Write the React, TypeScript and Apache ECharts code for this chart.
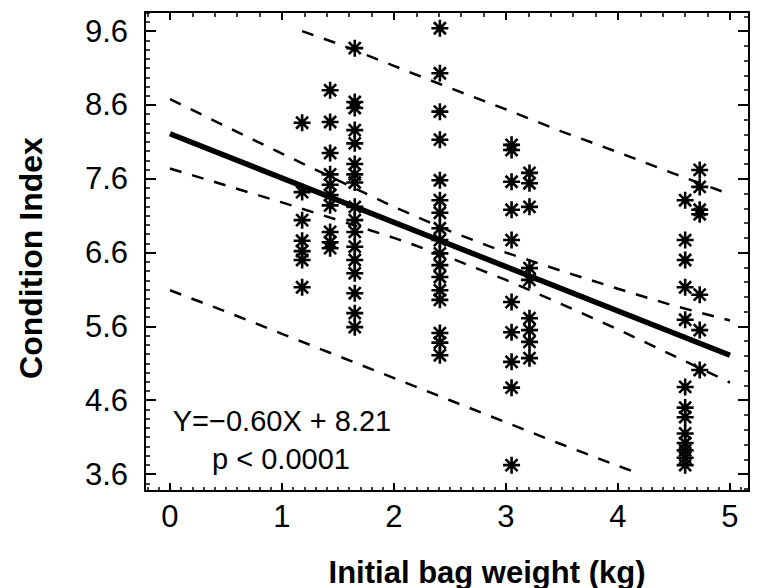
import React, { useEffect, useRef } from "react";
import * as echarts from "echarts";

// ---- axis ticks / labels ----
const xTickLabels = [0, 1, 2, 3, 4, 5];
const yTickLabels = [3.6, 4.6, 5.6, 6.6, 7.6, 8.6, 9.6];
const xRange = [-0.223, 5.17];
const yRange = [3.37, 9.86];

// ---- observations (x = initial bag weight, y = condition index) ----
const colAx = 1.18;
const colAy = [8.36, 7.42, 7.04, 6.76, 6.62, 6.5, 6.13];
const colBx = 1.43;
const colBy = [8.8, 8.37, 7.95, 7.66, 7.52, 7.38, 7.24, 6.88, 6.74, 6.66];
const colCx = 1.65;
const colCy = [9.37, 8.64, 8.56, 8.26, 8.08, 7.8, 7.66, 7.55, 7.22, 7.04, 6.88, 6.68, 6.5, 6.32, 6.05, 5.78, 5.59];
const colDx = 2.41;
const colDy = [9.64, 9.03, 8.51, 8.13, 7.58, 7.31, 7.14, 6.93, 6.77, 6.59, 6.43, 6.27, 6.09, 5.96, 5.51, 5.38, 5.21];
const colEx = 3.05;
const colEy = [8.06, 7.99, 7.56, 7.18, 6.77, 5.93, 5.52, 5.12, 4.77, 3.72];
const colFx = 3.21;
const colFy = [7.68, 7.54, 7.22, 6.39, 6.23, 5.71, 5.55, 5.39, 5.17];
const colGx = 4.6;
const colGy = [7.31, 6.77, 6.5, 6.13, 5.69, 4.78, 4.5, 4.37, 4.15, 4.02, 3.92, 3.82, 3.72];
const colHx = 4.73;
const colHy = [7.72, 7.49, 7.18, 7.12, 6.03, 5.55, 5.01];

// ---- regression line ----
const fitX = [0, 5];
const fitY = [8.21, 5.21];

// ---- confidence band (inner dashed) ----
const ciX = [0, 0.5, 1, 1.5, 2, 2.5, 3, 3.5, 4, 4.5, 5];
const ciUpper = [8.68, 8.31, 7.94, 7.58, 7.22, 6.89, 6.6, 6.35, 6.11, 5.88, 5.68];
const ciLower = [7.74, 7.51, 7.28, 7.04, 6.8, 6.53, 6.23, 5.9, 5.56, 5.2, 4.84];

// ---- prediction band (outer dashed) ----
const piUpperX = [1.18, 1.5, 2, 2.5, 3, 3.5, 4, 4.5, 5];
const piUpperY = [9.6, 9.43, 9.13, 8.83, 8.54, 8.24, 7.96, 7.67, 7.39];
const piLowerX = [0, 0.5, 1, 1.5, 2, 2.5, 3, 3.5, 4, 4.2];
const piLowerY = [6.09, 5.8, 5.5, 5.2, 4.9, 4.6, 4.3, 4.0, 3.71, 3.6];

const FONT = "'Liberation Sans', Arial, Helvetica, sans-serif";
const ASTERISK = "path://M0 -10 L0 10 M-10 0 L10 0 M-7.07 -7.07 L7.07 7.07 M-7.07 7.07 L7.07 -7.07";

function steps(from: number, to: number, step: number): number[] {
  const out: number[] = [];
  const n = Math.round((to - from) / step);
  for (let i = 0; i <= n; i++) out.push(Math.round((from + i * step) * 1000) / 1000);
  return out;
}

function pairs(xs: number[], ys: number[]): number[][] {
  return xs.map((x, i) => [x, ys[i]]);
}

function column(x: number, ys: number[]): number[][] {
  return ys.map((y) => [x, y]);
}

export default function App() {
  const ref = useRef<HTMLDivElement>(null);

  useEffect(() => {
    if (!ref.current) return;
    const chart = echarts.init(ref.current, undefined, { renderer: "svg" });

    const black = "#000";
    const xMinorBottom = steps(-0.2, 5.1, 0.1);
    const xMinorTop = steps(-0.2, 5.0, 0.2);
    const yMinorLeft = steps(3.475, 9.85, 0.125);
    const yMinorRight = steps(3.4, 9.8, 0.2);

    const baseX = (position: string, ticks: number[], len: number, major: boolean, labels: boolean) => ({
      type: "value",
      position,
      min: xRange[0],
      max: xRange[1],
      axisLine: { show: major, onZero: false, lineStyle: { color: black, width: 2 } },
      axisTick: { show: true, inside: true, length: len, customValues: ticks, lineStyle: { color: black, width: major ? 2 : 1.5 } },
      axisLabel: labels
        ? { show: true, customValues: xTickLabels, color: black, fontSize: 31, fontFamily: FONT, margin: 10 }
        : { show: false },
      splitLine: { show: false },
    });

    const baseY = (position: string, ticks: number[], len: number, major: boolean, labels: boolean) => ({
      type: "value",
      position,
      min: yRange[0],
      max: yRange[1],
      axisLine: { show: major, onZero: false, lineStyle: { color: black, width: 2 } },
      axisTick: { show: true, inside: true, length: len, customValues: ticks, lineStyle: { color: black, width: major ? 2 : 1.5 } },
      axisLabel: labels
        ? { show: true, customValues: yTickLabels, color: black, fontSize: 31, fontFamily: FONT, margin: 17, formatter: (v: number) => v.toFixed(1) }
        : { show: false },
      splitLine: { show: false },
    });

    const dashed = { color: black, width: 2.5, type: [12, 11] as number[] };

    const scatterData = [
      ...column(colAx, colAy),
      ...column(colBx, colBy),
      ...column(colCx, colCy),
      ...column(colDx, colDy),
      ...column(colEx, colEy),
      ...column(colFx, colFy),
      ...column(colGx, colGy),
      ...column(colHx, colHy),
    ];

    chart.setOption({
      animation: false,
      backgroundColor: "#fff",
      grid: { left: 145, top: 12, right: 9, bottom: 97, containLabel: false },
      xAxis: [
        baseX("bottom", xTickLabels, 8, true, true),
        baseX("bottom", xMinorBottom, 4, false, false),
        baseX("top", xTickLabels, 8, true, false),
        baseX("top", xMinorTop, 5, false, false),
      ],
      yAxis: [
        baseY("left", yTickLabels, 11, true, true),
        baseY("left", yMinorLeft, 5, false, false),
        baseY("right", yTickLabels, 11, true, false),
        baseY("right", yMinorRight, 5, false, false),
      ],
      series: [
        { type: "line", data: pairs(piUpperX, piUpperY), symbol: "none", lineStyle: dashed, z: 2 },
        { type: "line", data: pairs(piLowerX, piLowerY), symbol: "none", lineStyle: dashed, z: 2 },
        { type: "line", data: pairs(ciX, ciUpper), symbol: "none", lineStyle: dashed, z: 2 },
        { type: "line", data: pairs(ciX, ciLower), symbol: "none", lineStyle: dashed, z: 2 },
        {
          type: "scatter",
          data: scatterData,
          symbol: ASTERISK,
          symbolSize: 17,
          itemStyle: { color: black, borderColor: black, borderWidth: 2.6, opacity: 1 },
          z: 3,
        },
        { type: "line", data: pairs(fitX, fitY), symbol: "none", lineStyle: { color: black, width: 5.5 }, z: 4 },
      ],
      graphic: [
        {
          type: "text",
          x: 282,
          y: 421,
          style: { text: "Y=−0.60X + 8.21", fontSize: 29, fontFamily: FONT, fill: black, align: "center", verticalAlign: "middle" },
        },
        {
          type: "text",
          x: 281,
          y: 459,
          style: { text: "p < 0.0001", fontSize: 29, fontFamily: FONT, fill: black, align: "center", verticalAlign: "middle" },
        },
        {
          type: "text",
          x: 487,
          y: 572,
          style: { text: "Initial bag weight (kg)", fontSize: 31, fontWeight: "bold", fontFamily: FONT, fill: black, align: "center", verticalAlign: "middle" },
        },
        {
          type: "text",
          x: 31,
          y: 258,
          rotation: Math.PI / 2,
          style: { text: "Condition Index", fontSize: 32, fontWeight: "bold", fontFamily: FONT, fill: black, align: "center", verticalAlign: "middle" },
        },
      ],
    });

    return () => chart.dispose();
  }, []);

  return (
    <div
      ref={ref}
      style={{ position: "fixed", left: 0, top: 0, width: 758, height: 588, background: "#fff" }}
    />
  );
}
